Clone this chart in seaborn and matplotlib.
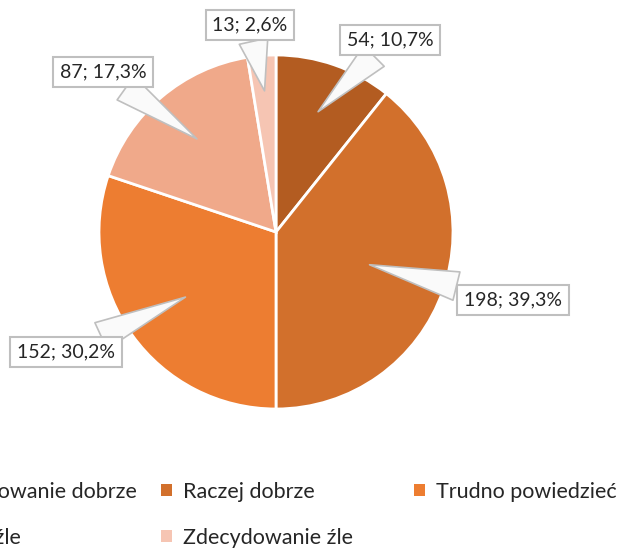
import numpy as np
import matplotlib
matplotlib.use('Agg')
import matplotlib.pyplot as plt
import seaborn as sns
from matplotlib.patches import Patch

categories = ['Zdecydowanie dobrze', 'Raczej dobrze', 'Trudno powiedzieć', 'Raczej źle', 'Zdecydowanie źle']
counts = [54, 198, 152, 87, 13]
percents = ['10,7%', '39,3%', '30,2%', '17,3%', '2,6%']
colors = ['#B35C21', '#D2702C', '#ED7D31', '#F0A98A', '#F6C5B3']

# where the callout points inside each slice (fraction of radius) and where its box sits
tip_radius = [0.72, 0.56, 0.63, 0.69, 0.80]
box_xy = [(0.644, 1.085), (1.339, -0.384), (-1.186, -0.678), (-0.977, 0.904), (-0.147, 1.169)]

sns.set_theme(style='white')
plt.rcParams['font.family'] = ['Lato', 'DejaVu Sans']

W, H = 624, 549
cx, cy, r = 276, 232, 177

fig = plt.figure(figsize=(W / 100, H / 100), dpi=100)
ax = fig.add_axes([0, 0, 1, 1])
wedges, _ = ax.pie(counts, colors=colors, startangle=90, counterclock=False,
                   wedgeprops=dict(edgecolor='white', linewidth=2))
ax.set_xlim(-cx / r, (W - cx) / r)
ax.set_ylim(-(H - cy) / r, cy / r)
ax.set_aspect('equal')
ax.axis('off')

for w, n, p, tr, bxy in zip(wedges, counts, percents, tip_radius, box_xy):
    ang = np.deg2rad((w.theta1 + w.theta2) / 2)
    tip = (tr * np.cos(ang), tr * np.sin(ang))
    ax.annotate(f'{n}; {p}', xy=tip, xytext=bxy, ha='center', va='center',
                fontsize=14, color='#262626',
                bbox=dict(boxstyle='square,pad=0.35', fc='white', ec='#BFBFBF', lw=1.5),
                arrowprops=dict(arrowstyle='wedge,tail_width=1.5,shrink_factor=0.5',
                                fc='#FAFAFA', ec='#BFBFBF', lw=1.2, shrinkA=0, shrinkB=0))

# legend laid out row-wise in three columns, first column partly off the canvas
handles = [Patch(facecolor=c, edgecolor='none') for c in colors]
columns = [[0, 3], [1, 4], [2]]
col_x = [-94, 161, 414]
for idx, x in zip(columns, col_x):
    fig.legend([handles[i] for i in idx], [categories[i] for i in idx],
               loc='upper left', bbox_to_anchor=(x / W, 1 - 482 / H),
               frameon=False, fontsize=15.5, borderpad=0, borderaxespad=0,
               handlelength=0.5, handleheight=0.5, handletextpad=0.5,
               labelspacing=1.2, labelcolor='#262626')

fig.savefig('out.png', dpi=100)
